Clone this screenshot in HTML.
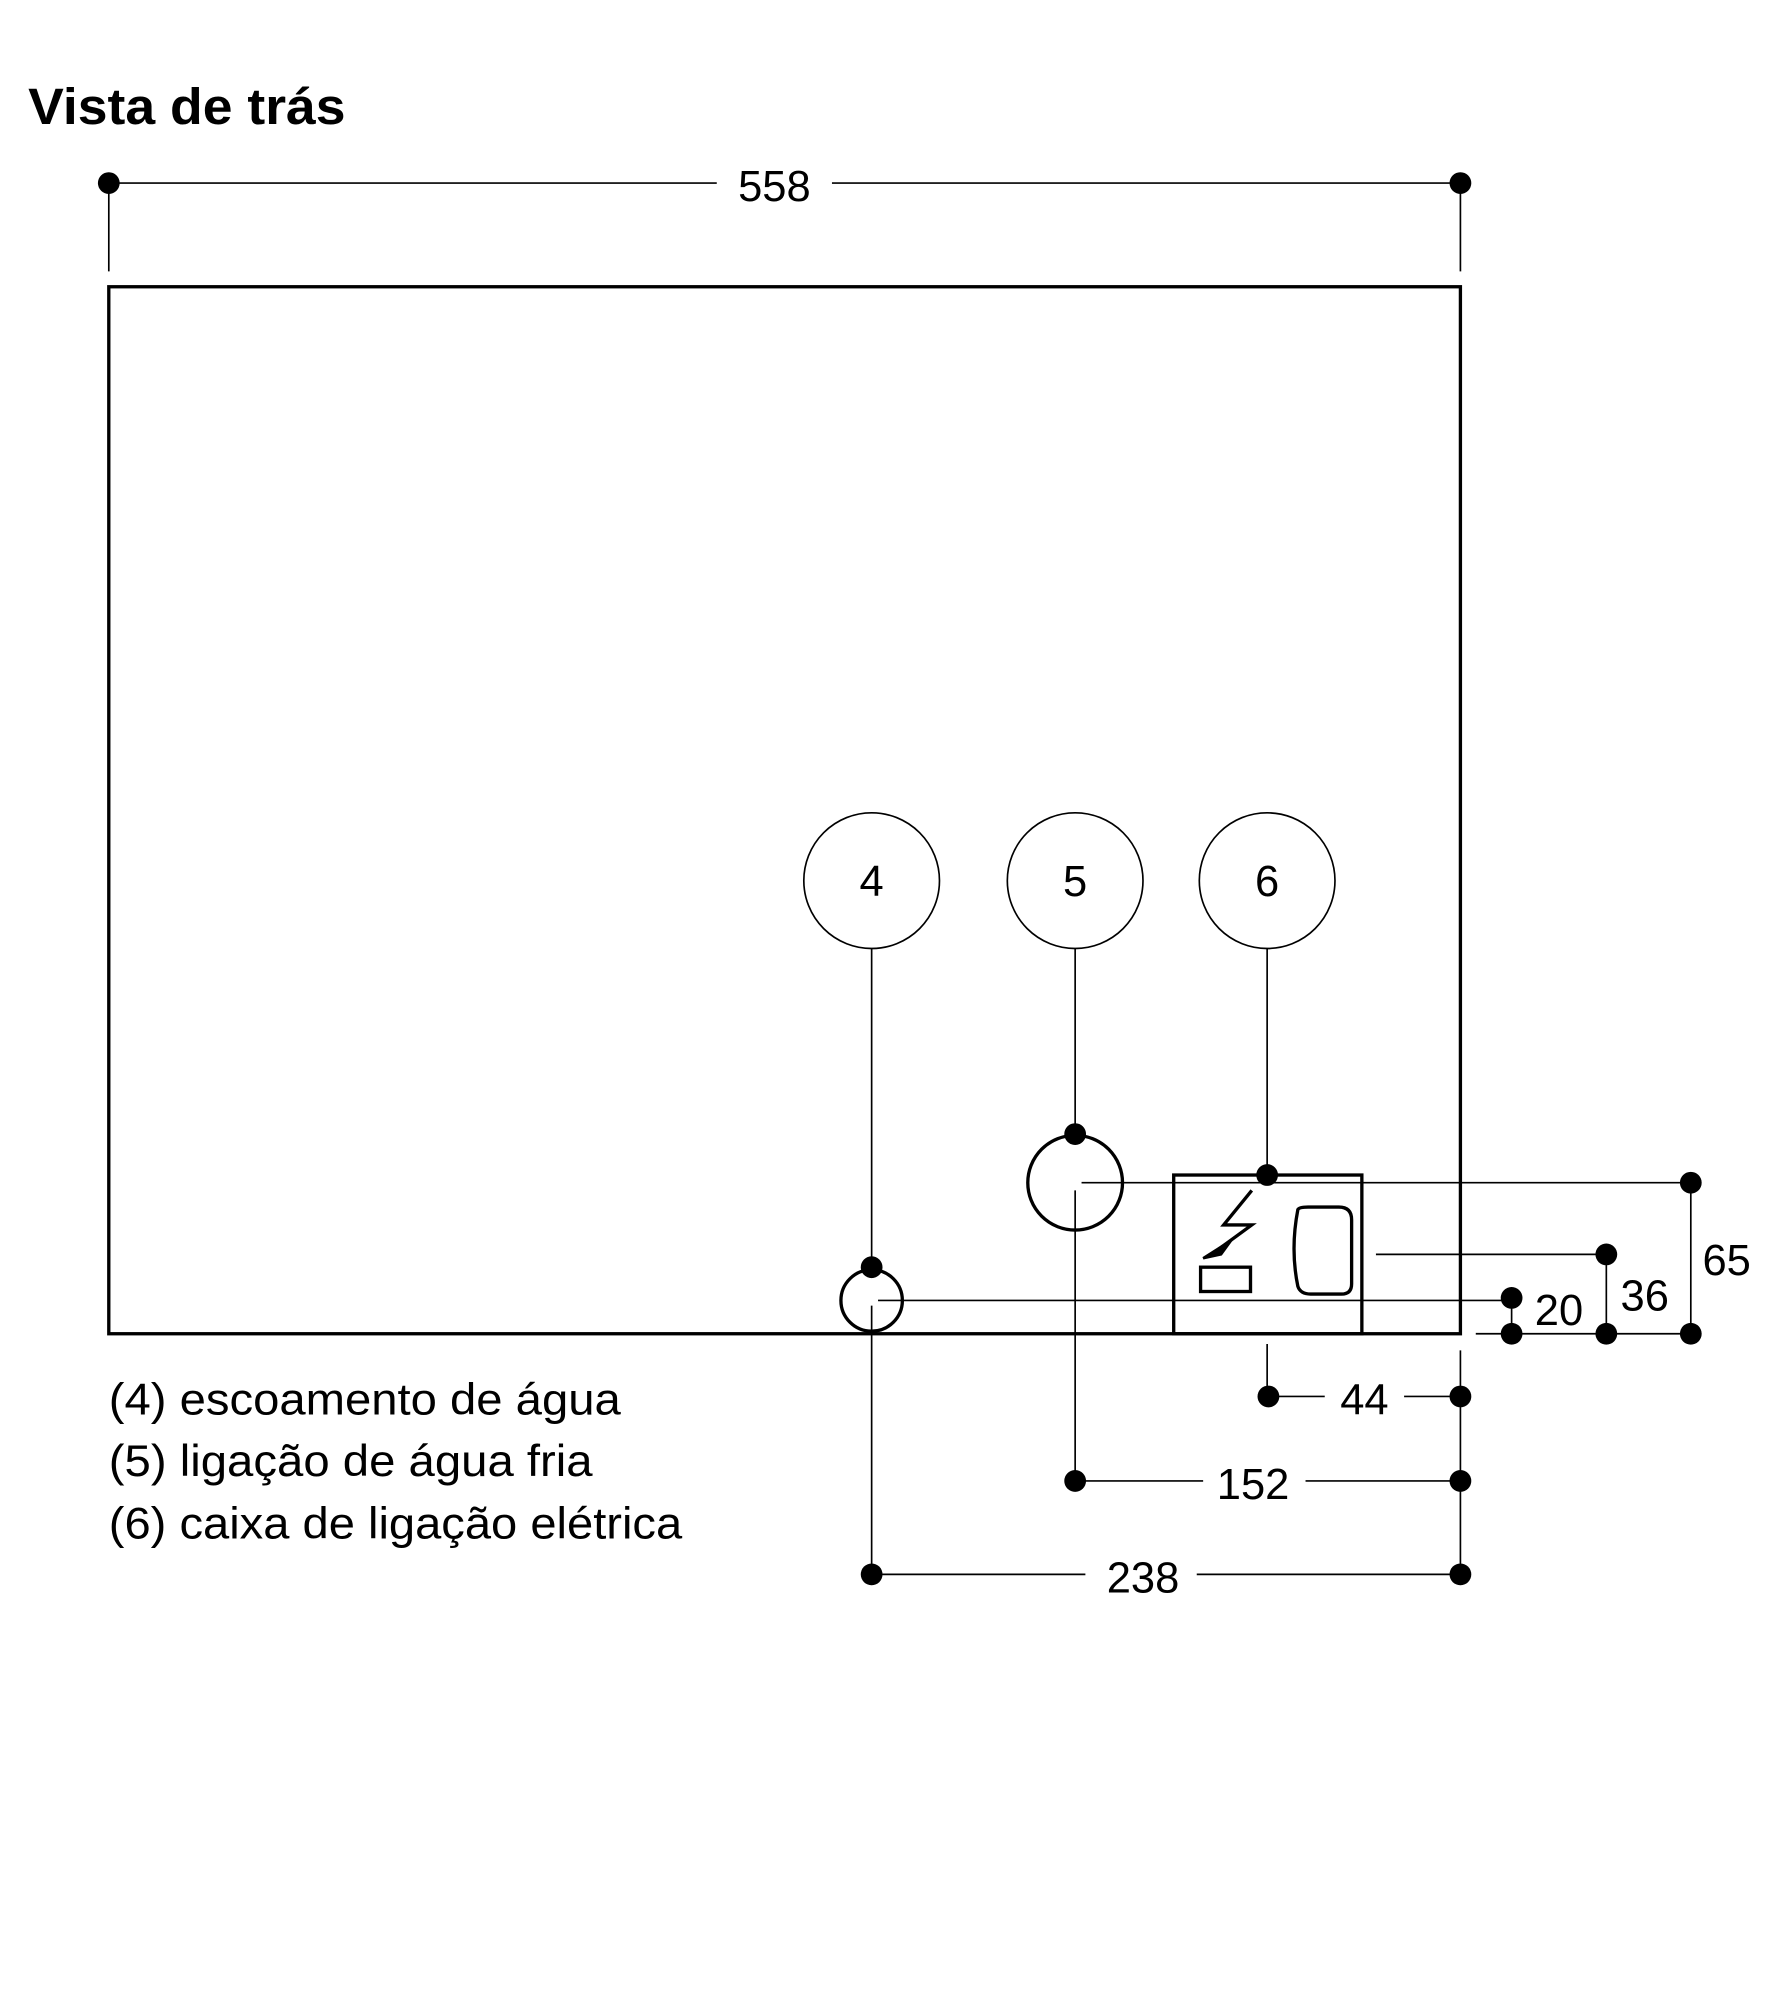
<!DOCTYPE html>
<html><head><meta charset="utf-8"><style>
html,body{margin:0;padding:0;background:#fff;}
svg{display:block;}
text{font-family:"Liberation Sans",sans-serif;fill:#000;}
</style></head><body>
<svg width="1774" height="2000" viewBox="0 0 1386 1562.5" xmlns="http://www.w3.org/2000/svg">
<text x="22" y="97" font-size="40" font-weight="bold" textLength="248" lengthAdjust="spacingAndGlyphs">Vista de trás</text>
<g stroke="#000" fill="none" stroke-width="1.3">
<line x1="85" y1="143" x2="560" y2="143"/><line x1="650" y1="143" x2="1141" y2="143"/>
<line x1="85" y1="143" x2="85" y2="212"/><line x1="1141" y1="143" x2="1141" y2="212"/>
<line x1="681" y1="741" x2="681" y2="990"/>
<line x1="840" y1="741" x2="840" y2="886"/>
<line x1="990" y1="741" x2="990" y2="918"/>
<circle cx="681" cy="688" r="53"/><circle cx="840" cy="688" r="53"/><circle cx="990" cy="688" r="53"/>
<line x1="845" y1="924" x2="1321" y2="924"/>
<line x1="686" y1="1016" x2="1181" y2="1016"/>
<line x1="1075" y1="980" x2="1255" y2="980"/>
<line x1="1153" y1="1042" x2="1321" y2="1042"/>
<line x1="1181" y1="1016" x2="1181" y2="1042"/>
<line x1="1255" y1="980" x2="1255" y2="1042"/>
<line x1="1321" y1="924" x2="1321" y2="1042"/>
<line x1="840" y1="930" x2="840" y2="1157"/>
<line x1="681" y1="1020" x2="681" y2="1230"/>
<line x1="990" y1="1050" x2="990" y2="1091"/>
<line x1="1141" y1="1055" x2="1141" y2="1230"/>
<line x1="990" y1="1091" x2="1035" y2="1091"/><line x1="1097" y1="1091" x2="1141" y2="1091"/>
<line x1="840" y1="1157" x2="940" y2="1157"/><line x1="1020" y1="1157" x2="1141" y2="1157"/>
<line x1="681" y1="1230" x2="848" y2="1230"/><line x1="935" y1="1230" x2="1141" y2="1230"/>
</g>
<g stroke="#000" fill="none" stroke-width="2.6">
<rect x="85" y="224" width="1056" height="818"/>
<ellipse cx="681" cy="1016" rx="24" ry="24"/>
<ellipse cx="840" cy="924" rx="37" ry="37"/>
<rect x="917" y="918" width="147" height="124"/>
<rect x="938" y="990" width="39" height="19"/>
<path d="M1014 945 Q1008 976 1014 1005 Q1016 1011 1024 1011 L1048 1011 Q1056 1011 1056 1003 L1056 953 Q1056 943 1046 943 L1022 943 Q1015 943 1014 945 Z"/>
<path d="M978 930 L956 957 L978 957 L952 976"/>
</g>
<path d="M940 983 L962 969 L954 980 Z" fill="#000" stroke="#000" stroke-width="2"/>
<g fill="#000">
<circle cx="85" cy="143" r="8.5"/><circle cx="1141" cy="143" r="8.5"/>
<circle cx="681" cy="990" r="8.5"/><circle cx="840" cy="886" r="8.5"/><circle cx="990" cy="918" r="8.5"/>
<circle cx="1321" cy="924" r="8.5"/><circle cx="1255" cy="980" r="8.5"/><circle cx="1181" cy="1014" r="8.5"/>
<circle cx="1181" cy="1042" r="8.5"/><circle cx="1255" cy="1042" r="8.5"/><circle cx="1321" cy="1042" r="8.5"/>
<circle cx="991" cy="1091" r="8.5"/><circle cx="1141" cy="1091" r="8.5"/>
<circle cx="840" cy="1157" r="8.5"/><circle cx="1141" cy="1157" r="8.5"/>
<circle cx="681" cy="1230" r="8.5"/><circle cx="1141" cy="1230" r="8.5"/>
</g>
<g font-size="34" text-anchor="middle">
<text x="605" y="157">558</text>
<text x="681" y="700">4</text><text x="840" y="700">5</text><text x="990" y="700">6</text>
<text x="1066" y="1105">44</text>
<text x="979" y="1171">152</text>
<text x="893" y="1244">238</text>
<text x="1218" y="1035">20</text>
<text x="1285" y="1024">36</text>
<text x="1349" y="996">65</text>
</g>
<g font-size="35">
<text x="85" y="1105" textLength="400" lengthAdjust="spacingAndGlyphs">(4) escoamento de água</text>
<text x="85" y="1153" textLength="378" lengthAdjust="spacingAndGlyphs">(5) ligação de água fria</text>
<text x="85" y="1202" textLength="448" lengthAdjust="spacingAndGlyphs">(6) caixa de ligação elétrica</text>
</g>
</svg>
</body></html>
